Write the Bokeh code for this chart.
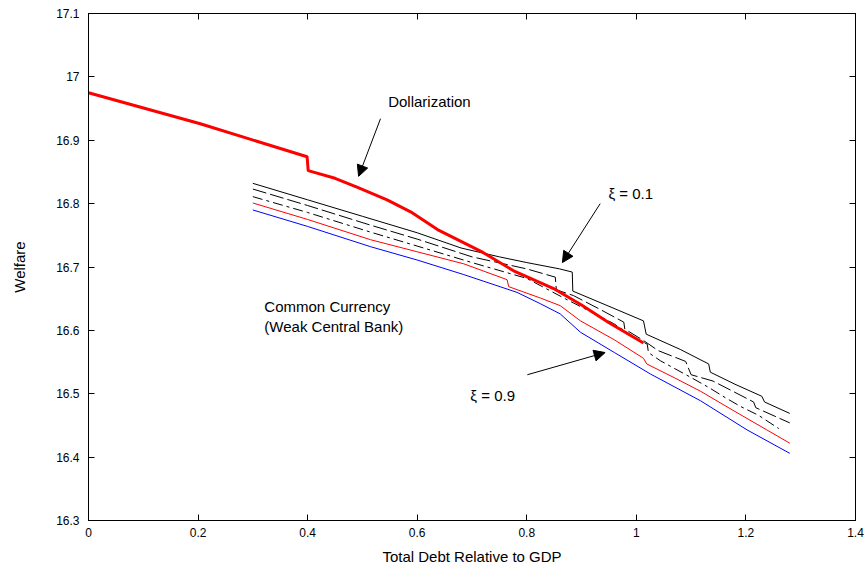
from bokeh.plotting import figure
from bokeh.models import (Range1d, LinearAxis, FixedTicker, CustomJSTickFormatter,
                          Label, Arrow, NormalHead)
from bokeh.embed import file_html
from bokeh.resources import INLINE

# ---- data ----
dollar_x = [0.0, 0.204, 0.399, 0.401, 0.45, 0.49, 0.545, 0.588, 0.637, 0.72, 0.776, 0.849, 0.90, 0.95, 1.013]
dollar_y = [16.975, 16.926, 16.874, 16.852, 16.840, 16.826, 16.806, 16.787, 16.759, 16.723, 16.694, 16.666, 16.640, 16.612, 16.580]

xi1_x = [0.30, 0.40, 0.50, 0.60, 0.68, 0.75, 0.80, 0.86, 0.883, 0.884, 0.95, 1.013, 1.018, 1.08, 1.132, 1.135, 1.18, 1.229, 1.234, 1.28]
xi1_y = [16.832, 16.806, 16.780, 16.754, 16.730, 16.716, 16.707, 16.697, 16.692, 16.662, 16.638, 16.615, 16.594, 16.570, 16.547, 16.534, 16.515, 16.496, 16.487, 16.469]

xi3_x = [0.30, 0.40, 0.515, 0.60, 0.70, 0.80, 0.852, 0.854, 0.885, 0.934, 0.977, 0.979, 1.013, 1.04, 1.09, 1.10, 1.14, 1.214, 1.218, 1.28]
xi3_y = [16.823, 16.797, 16.766, 16.744, 16.716, 16.697, 16.684, 16.664, 16.655, 16.633, 16.613, 16.602, 16.584, 16.568, 16.551, 16.530, 16.520, 16.487, 16.478, 16.454]

xi5_x = [0.30, 0.40, 0.515, 0.60, 0.70, 0.80, 0.87, 0.958, 0.995, 1.02, 1.022, 1.044, 1.099, 1.132, 1.162, 1.19, 1.223, 1.26]
xi5_y = [16.811, 16.786, 16.755, 16.733, 16.707, 16.682, 16.650, 16.611, 16.590, 16.578, 16.565, 16.552, 16.526, 16.510, 16.494, 16.480, 16.466, 16.445]

xi7_x = [0.30, 0.40, 0.515, 0.60, 0.685, 0.764, 0.767, 0.825, 0.861, 0.898, 0.96, 1.013, 1.019, 1.07, 1.117, 1.18, 1.238, 1.28]
xi7_y = [16.801, 16.775, 16.743, 16.724, 16.705, 16.680, 16.669, 16.651, 16.639, 16.615, 16.585, 16.556, 16.547, 16.525, 16.504, 16.472, 16.443, 16.422]

xi9_x = [0.30, 0.40, 0.515, 0.60, 0.685, 0.782, 0.825, 0.861, 0.898, 0.96, 1.026, 1.117, 1.202, 1.28]
xi9_y = [16.790, 16.764, 16.732, 16.711, 16.688, 16.660, 16.642, 16.626, 16.597, 16.565, 16.531, 16.489, 16.443, 16.406]

x_ticks = [0, 0.2, 0.4, 0.6, 0.8, 1.0, 1.2, 1.4]
y_ticks = [16.3, 16.4, 16.5, 16.6, 16.7, 16.8, 16.9, 17.0, 17.1]

FONT = "Liberation Sans"

p = figure(width=867, height=575, output_backend="svg", toolbar_location=None,
           x_range=Range1d(0, 1.4), y_range=Range1d(16.3, 17.1),
           x_axis_type=None, y_axis_type=None,
           min_border_left=88, min_border_right=12, min_border_top=13, min_border_bottom=55)
p.background_fill_color = "white"
p.border_fill_color = "white"
p.outline_line_color = "black"
p.grid.visible = False

fmt = CustomJSTickFormatter(code="return (Math.round(tick*10)/10).toString();")
blank = CustomJSTickFormatter(code="return '';")

def style(ax, labels=True):
    ax.major_tick_in = 6
    ax.major_tick_out = 0
    ax.minor_tick_line_color = None
    ax.axis_line_color = "black"
    ax.major_tick_line_color = "black"
    ax.major_label_text_font = FONT
    ax.major_label_text_font_size = "12px" if labels else "0px"
    ax.major_label_text_color = "black"
    ax.axis_label_text_font = FONT
    ax.axis_label_text_font_size = "15px"
    ax.axis_label_text_font_style = "normal"
    ax.axis_label_text_color = "black"
    if not labels:
        ax.major_label_standoff = 0

xb = LinearAxis(ticker=FixedTicker(ticks=x_ticks), formatter=fmt, axis_label="Total Debt Relative to GDP")
style(xb)
xb.major_label_standoff = 7
xb.axis_label_standoff = 8
p.add_layout(xb, "below")

yl = LinearAxis(ticker=FixedTicker(ticks=y_ticks), formatter=fmt, axis_label="Welfare")
style(yl)
yl.major_label_standoff = 9
yl.axis_label_standoff = 25
p.add_layout(yl, "left")

xt = LinearAxis(ticker=FixedTicker(ticks=x_ticks), formatter=blank)
style(xt, labels=False)
p.add_layout(xt, "above")

yr = LinearAxis(ticker=FixedTicker(ticks=y_ticks), formatter=blank)
style(yr, labels=False)
p.add_layout(yr, "right")

p.line(xi9_x, xi9_y, line_color="#0000ff", line_width=1)
p.line(xi7_x, xi7_y, line_color="#ff0000", line_width=1)
p.line(xi5_x, xi5_y, line_color="black", line_width=1, line_dash="10 4 3 4")
p.line(xi3_x, xi3_y, line_color="black", line_width=1, line_dash="14 4")
p.line(xi1_x, xi1_y, line_color="black", line_width=1)
p.line(dollar_x, dollar_y, line_color="#ff0000", line_width=3)

def lab(x, y, t):
    p.add_layout(Label(x=x, y=y, text=t, text_font=FONT, text_font_size="15px",
                       text_baseline="middle", text_align="left", text_color="black"))

def arr(x0, y0, x1, y1):
    p.add_layout(Arrow(end=NormalHead(size=11, fill_color="black", line_color="black"),
                       x_start=x0, y_start=y0, x_end=x1, y_end=y1,
                       line_color="black", line_width=1))

lab(0.547, 16.961, "Dollarization")
arr(0.533, 16.934, 0.493, 16.843)
lab(0.949, 16.816, "ξ = 0.1")
arr(0.934, 16.800, 0.865, 16.707)
lab(0.697, 16.497, "ξ = 0.9")
arr(0.801, 16.530, 0.943, 16.565)
lab(0.321, 16.638, "Common Currency")
lab(0.321, 16.606, "(Weak Central Bank)")

open("out.html", "w").write(file_html(p, INLINE))
